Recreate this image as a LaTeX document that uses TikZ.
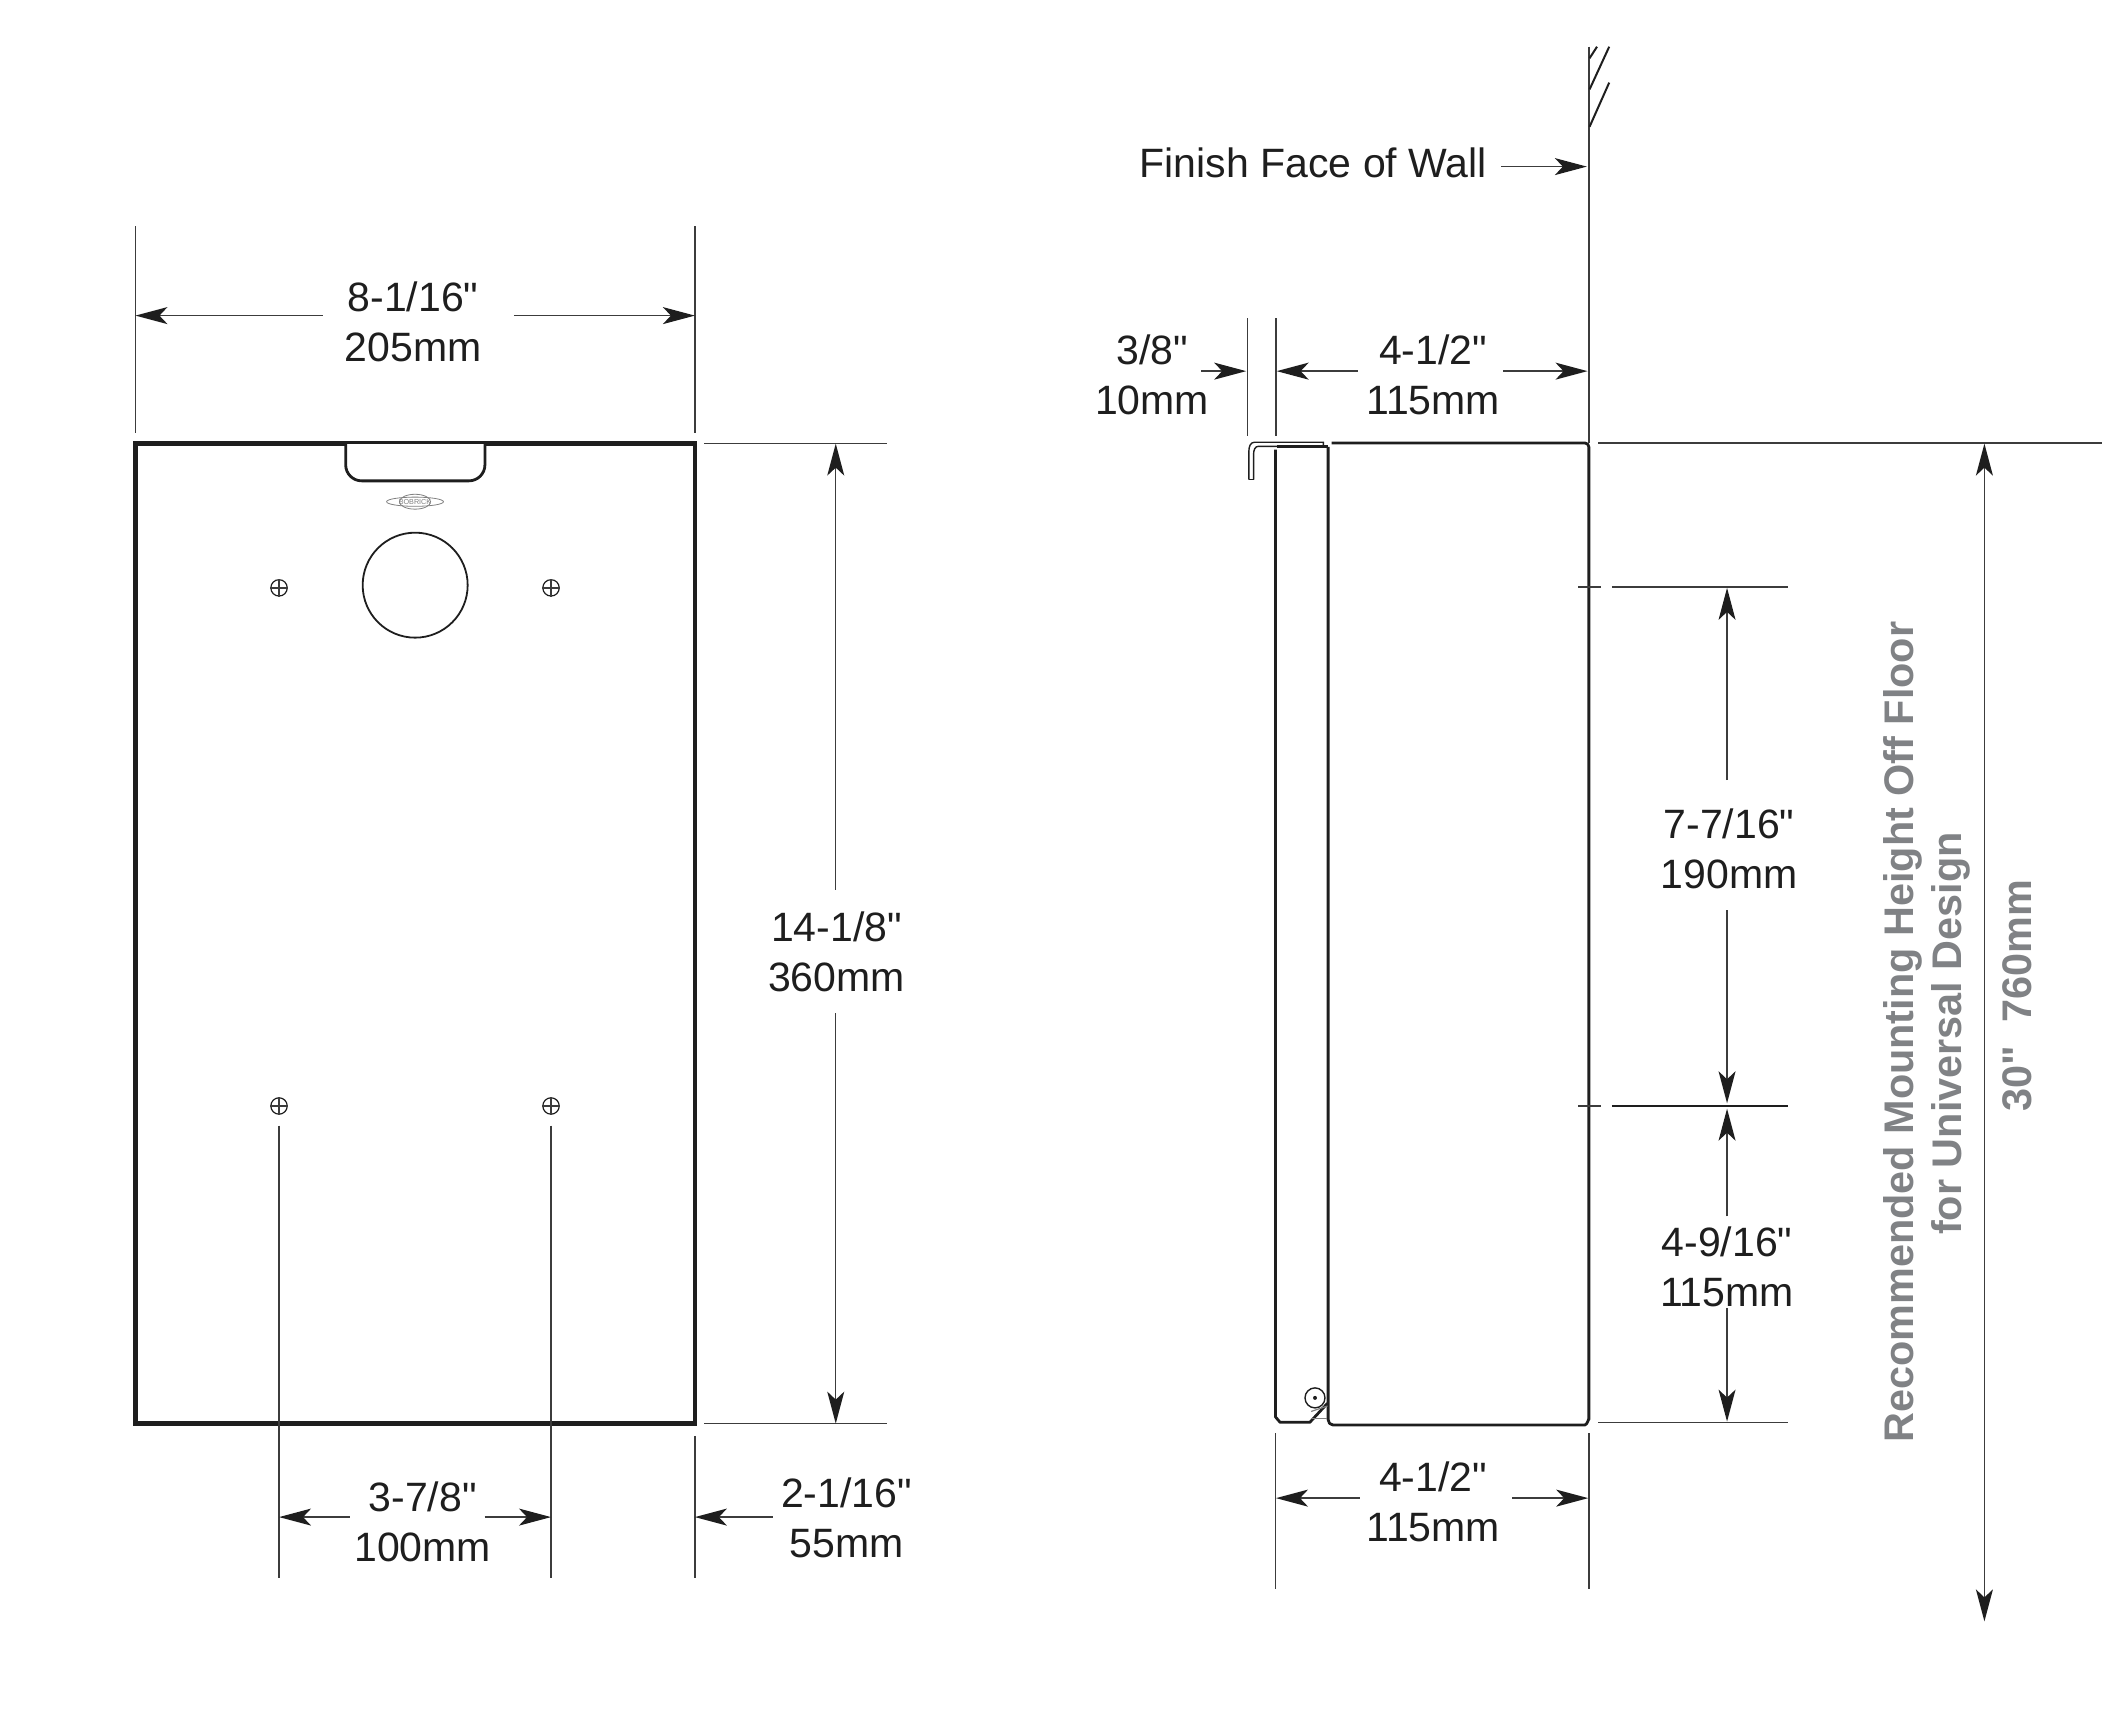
\documentclass[tikz,border=0pt]{standalone}
\usepackage{fontspec}
\newfontfamily\dimfont{Liberation Sans}
\usetikzlibrary{arrows.meta}
\definecolor{ink}{HTML}{1E1E1E}
\definecolor{linegrey}{HTML}{3C3C3C}
\definecolor{greytext}{HTML}{808285}
\tikzset{
  thin line/.style={draw=linegrey,line width=0.7pt},
  outline/.style={draw=ink,line width=2.3pt},
  body/.style={draw=ink,line width=1.4pt,line join=round},
  dimarrow/.style={draw=linegrey,line width=0.7pt,-{Stealth[length=16pt,width=8.5pt,inset=4pt,color=ink]}},
  dimboth/.style={draw=linegrey,line width=0.7pt,{Stealth[length=16pt,width=8.5pt,inset=4pt,color=ink]}-{Stealth[length=16pt,width=8.5pt,inset=4pt,color=ink]}},
  dimlabel/.style={font=\dimfont\fontsize{20.5}{25}\selectfont,align=center,inner sep=0pt,text=ink},
  greylabel/.style={font=\dimfont\fontsize{20.7}{25}\selectfont\bfseries,inner sep=0pt,text=greytext,rotate=90},
  hole/.style={circle,draw=ink,line width=0.6pt,minimum size=8.2pt,inner sep=0pt},
}
\begin{document}
\begin{tikzpicture}[x=.6773pt,y=-.6773pt]
\useasboundingbox (0,0) rectangle (1568.8,1264.6);
% ---------- front view
\draw[outline] (100,327.5) rectangle (513,1050.8);
\draw[body,fill=white,rounded corners=8pt] (255.2,326.5) -- (255.2,355) -- (358,355) -- (358,326.5);
\draw[body] (255,326.5) -- (358,326.5);
\node[circle,draw=ink,line width=0.9pt,minimum size=52.5pt,inner sep=0pt] (dial) at (306.5,432) {};
\node[hole] (h1) at (206,434) {};
\node[hole] (h2) at (406.8,434) {};
\node[hole] (h3) at (206,816.5) {};
\node[hole] (h4) at (406.8,816.5) {};
\foreach \h in {h1,h2,h3,h4}{
  \draw[thin line] (\h.north) -- (\h.south);
  \draw[thin line] (\h.west) -- (\h.east);
}
\draw[draw=gray,line width=0.4pt] (306.4,370.4) ellipse[x radius=21,y radius=3.4];
\draw[draw=gray,line width=0.4pt] (306.4,370.4) ellipse[x radius=11.5,y radius=5.5];
\node[inner sep=0pt,font=\dimfont\fontsize{3.6}{4}\selectfont,text=gray] (logo) at (306.4,370.4) {BOBRICK};

\coordinate (wL) at (100,233);
\coordinate (wR) at (513,233);
\draw[thin line] (100,167) -- (100,320);
\draw[thin line] (513,167) -- (513,320);
\node[dimlabel] (wtxt) at (305,237.5) {8-1/16"\\205mm};
\draw[dimarrow] ([xshift=-10.8pt]wtxt.west |- wL) -- (wL);
\draw[dimarrow] ([xshift=16pt]wtxt.east |- wR) -- (wR);

\draw[thin line] (520,327.5) -- (655,327.5);
\draw[thin line] (520,1051) -- (655,1051);
\coordinate (hT) at (617,327.5);
\coordinate (hB) at (617,1051);
\node[dimlabel] (htxt) at (617.5,702.5) {14-1/8"\\360mm};
\draw[dimarrow] (hT |- htxt.center) ++(0,-45.5) -- (hT);
\draw[dimarrow] (hB |- htxt.center) ++(0,45.5) -- (hB);

\draw[thin line] (h3.south) ++(0,8) -- (206,1165);
\draw[thin line] (h4.south) ++(0,8) -- (406.8,1165);
\draw[thin line] (513,1060) -- (513,1165);
\coordinate (sL) at (206,1120);
\coordinate (sR) at (406.8,1120);
\coordinate (oR) at (513,1120);
\node[dimlabel] (stxt) at (312,1123.5) {3-7/8"\\100mm};
\draw[dimarrow] ([xshift=-2pt]stxt.west |- sL) -- (sL);
\draw[dimarrow] ([xshift=-3.4pt]stxt.east |- sR) -- (sR);
\node[dimlabel] (otxt) at (625,1120.5) {2-1/16"\\55mm};
\draw[dimarrow] ([xshift=-4pt]otxt.west |- oR) -- (oR);

% ---------- side view: wall
\draw[draw=linegrey,line width=0.9pt] (1173,34.5) -- (1173,320);
\draw[draw=ink,line width=1pt] (1173.5,93.6) -- (1188,61);
\draw[draw=ink,line width=1pt] (1173.5,66) -- (1188,34.5);
\draw[draw=ink,line width=1pt] (1173.5,43) -- (1179,34.5);
\coordinate (wallFace) at (1171.5,123);
\node[dimlabel,anchor=east] (finish) at (1098,120) {Finish Face of Wall};
\draw[dimarrow] ([xshift=7pt]finish.east |- wallFace) -- (wallFace);

% ---------- side view: body
\draw[body] (983,327) -- (1170,327) to[out=0,in=90] (1173,330) -- (1173,1048) to[out=90,in=0] (1170,1052) -- (984,1052) to[out=180,in=-90] (980.5,1048) -- (980.5,330);
\draw[body] (941.6,332) -- (941.6,1046) -- (945,1050) -- (967,1050) -- (980,1036);
\draw[draw=ink,line width=1.5pt] (943,330) -- (980.5,330);
\draw[draw=ink,line width=0.7pt] (922,354) -- (922,333) to[out=90,in=180] (926,326.5) -- (977,326.5) -- (977,329);
\draw[draw=ink,line width=0.7pt] (925.5,354) -- (925.5,335) to[out=90,in=180] (929,329.5) -- (977,329.5);
\draw[draw=ink,line width=0.7pt] (922,354) -- (925.5,354);
\draw[draw=gray,line width=0.6pt] (968,1042) -- (980,1038);
\draw[draw=gray,line width=0.6pt] (968,1047) -- (980,1047);
\node[circle,draw=ink,line width=0.7pt,minimum size=10pt,inner sep=0pt] (pivot) at (970.8,1032) {};
\node[circle,fill=ink,minimum size=2pt,inner sep=0pt] (pivotc) at (pivot.center) {};

% 3/8 and top 4-1/2
\draw[thin line] (921,235) -- (921,322);
\draw[thin line] (942,235) -- (942,322);
\draw[thin line] (1173,320) -- (1173,327);
\coordinate (fT) at (920,274);
\coordinate (dTL) at (942.5,274);
\coordinate (dTR) at (1172,274);
\node[dimlabel] (ftxt) at (850.5,277) {3/8"\\10mm};
\node[dimlabel] (dTtxt) at (1058,277) {4-1/2"\\115mm};
\draw[dimarrow] ([xshift=-4pt]ftxt.east |- fT) -- (fT);
\draw[dimarrow] ([xshift=-4pt]dTtxt.west |- dTL) -- (dTL);
\draw[dimarrow] ([xshift=1.4pt]dTtxt.east |- dTR) -- (dTR);

% bottom 4-1/2
\draw[thin line] (941.6,1058) -- (941.6,1173);
\draw[thin line] (1173,1058) -- (1173,1173);
\coordinate (dBL) at (942,1106);
\coordinate (dBR) at (1172.5,1106);
\node[dimlabel] (dBtxt) at (1058,1108.5) {4-1/2"\\115mm};
\draw[dimarrow] ([xshift=-3pt]dBtxt.west |- dBL) -- (dBL);
\draw[dimarrow] ([xshift=6pt]dBtxt.east |- dBR) -- (dBR);

% heights
\draw[thin line] (1180,327) -- (1552,327);
\draw[thin line] (1165,433.5) -- (1182,433.5);
\draw[thin line] (1190,433.5) -- (1320,433.5);
\draw[thin line] (1165,816.5) -- (1182,816.5);
\draw[draw=ink,line width=1pt] (1190,816.5) -- (1320,816.5);
\draw[thin line] (1180,1050) -- (1320,1050);
\coordinate (a1) at (1275,434);
\coordinate (a2) at (1275,814.5);
\coordinate (a3) at (1275,818.5);
\coordinate (a4) at (1275,1049.5);
\node[dimlabel] (t1) at (1276.5,627) {7-7/16"\\190mm};
\node[dimlabel] (t2) at (1275,935) {4-9/16"\\115mm};
\draw[dimarrow] (a1 |- t1.center) ++(0,-51) -- (a1);
\draw[dimarrow] (a2 |- t1.center) ++(0,45) -- (a2);
\draw[dimarrow] (a3 |- t2.center) ++(0,-37) -- (a3);
\draw[dimarrow] (a4 |- t2.center) ++(0,31) -- (a4);

% floor height
\coordinate (fl1) at (1465,327.5);
\coordinate (fl2) at (1465,1197);
\draw[dimboth] (fl1) -- (fl2);
\node[greylabel] (g1) at (1405,762) {Recommended Mounting Height Off Floor};
\node[greylabel] (g2) at (1440,763) {for Universal Design};
\node[greylabel] (g3) at (1489,735) {30"\ \ 760mm};
\end{tikzpicture}
\end{document}
